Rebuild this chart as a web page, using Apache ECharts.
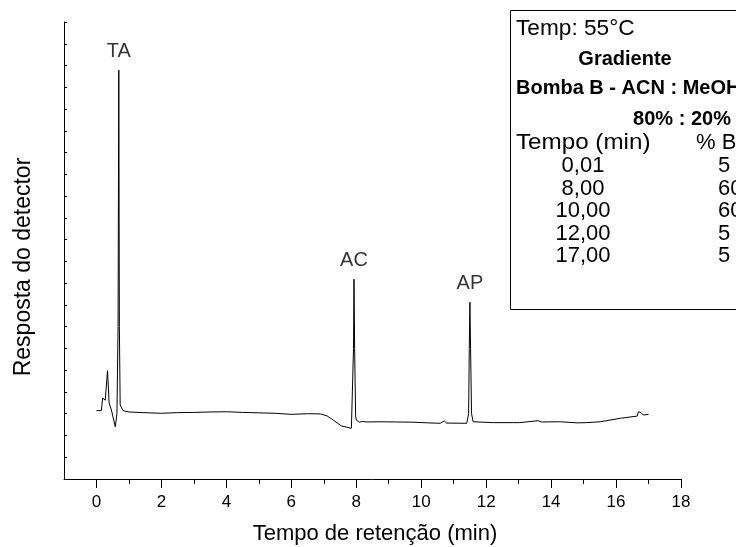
<!DOCTYPE html>
<html>
<head>
<meta charset="utf-8">
<script src="https://cdn.jsdelivr.net/npm/echarts@6/dist/echarts.min.js"></script>
<style>
  html, body { margin: 0; padding: 0; background: #fff; }
  #chart { width: 736px; height: 547px; }
</style>
</head>
<body>
<div id="chart"></div>
<script>
// tempo de retenção (min) e resposta do detector (unid. arbitrárias)
const retentionTime = [
  0.00, 0.15, 0.19, 0.23, 0.27, 0.34, 0.39, 0.46, 0.51, 0.58, 0.63, 0.665, 0.687, 0.705, 0.73,
  0.82, 1.00, 1.43, 2.00, 2.50, 3.00, 3.50, 4.00, 4.50, 5.00, 5.50, 6.00, 6.50, 6.90,
  7.10, 7.29, 7.54, 7.85, 7.89, 7.915, 7.93, 7.95, 7.98, 8.00, 8.10, 8.20, 8.30, 8.73,
  9.20, 9.75, 10.20, 10.58, 10.71, 10.78, 11.40, 11.46, 11.48, 11.50, 11.52, 11.55, 11.60,
  12.22, 12.84, 13.04, 13.60, 13.70, 14.28, 14.80, 15.10, 15.51, 16.13, 16.65, 16.69,
  16.77, 16.84, 16.90, 17.00
];
const detectorSignal = [
  314, 314, 372, 378, 362, 498, 349, 317, 320, 240, 300, 700, 1879, 700, 340,
  314, 308, 305, 302, 305, 306, 308, 309, 306, 304, 302, 297, 300, 299,
  290, 271, 244, 233, 240, 600, 918, 600, 290, 271, 261, 265, 262, 263,
  262, 261, 258, 256, 267, 257, 256, 300, 600, 812, 600, 300, 263,
  259, 259, 259, 268, 262, 263, 258, 259, 263, 279, 289, 309,
  305, 294, 298, 297
];

const peakNames = ['TA', 'AC', 'AP'];
const peakTimes = [0.687, 7.93, 11.5];
const peakHeights = [1879, 918, 812];

const xMajorTicks = [0, 2, 4, 6, 8, 10, 12, 14, 16, 18];
const xMinorTicks = [1, 3, 5, 7, 9, 11, 13, 15, 17];

const gradientTimes = ['0,01', '8,00', '10,00', '12,00', '17,00'];
const gradientPercentB = ['5', '60', '60', '5', '5'];

const FONT = 'Arial, "Liberation Sans", sans-serif';

const myChart = echarts.init(document.getElementById('chart'));

const lineData = retentionTime.map((t, i) => [t, detectorSignal[i]]);
const peakData = peakNames.map((n, i) => [peakTimes[i], peakHeights[i], n]);

// caixa com as condições do gradiente
const boxTexts = [
  { text: 'Temp: 55°C', x: 516, y: 29, align: 'left', font: '22px ' + FONT, sx: 1.03 },
  { text: 'Gradiente', x: 625, y: 59, align: 'center', font: 'bold 20px ' + FONT },
  { text: 'Bomba B - ACN : MeOH', x: 516, y: 88, align: 'left', font: 'bold 20px ' + FONT },
  { text: '80% : 20%', x: 682, y: 119, align: 'center', font: 'bold 20px ' + FONT },
  { text: 'Tempo (min)', x: 516, y: 143, align: 'left', font: '22px ' + FONT, sx: 1.1 },
  { text: '% B', x: 696, y: 143, align: 'left', font: '22px ' + FONT }
];
gradientTimes.forEach((t, i) => {
  boxTexts.push({ text: t, x: 583, y: 166 + i * 22.5, align: 'center', font: '22px ' + FONT });
  boxTexts.push({ text: gradientPercentB[i], x: 718, y: 166 + i * 22.5, align: 'left', font: '22px ' + FONT });
});

const graphic = [
  {
    type: 'rect', z: 10,
    shape: { x: 510.5, y: 10.5, width: 300, height: 299 },
    style: { fill: '#fff', stroke: '#000', lineWidth: 1 }
  },
  ...boxTexts.map(b => ({
    type: 'text', z: 11, x: b.x, y: b.y, scaleX: b.sx || 1,
    style: { text: b.text, font: b.font, fill: '#000', align: b.align, verticalAlign: 'middle' }
  })),
  {
    type: 'text', x: 375, y: 534,
    style: { text: 'Tempo de retenção (min)', font: '22px ' + FONT, fill: '#000', align: 'center', verticalAlign: 'middle' }
  },
  {
    type: 'text', x: 24, y: 267, rotation: Math.PI / 2,
    style: { text: 'Resposta do detector', font: '23px ' + FONT, fill: '#000', align: 'center', verticalAlign: 'middle' }
  }
];

const option = {
  backgroundColor: '#fff',
  animation: false,
  grid: { left: 64, right: 55, top: 22, bottom: 68 },
  xAxis: [
    {
      type: 'value', min: -1, max: 18, position: 'bottom',
      axisLine: { show: true, onZero: false, lineStyle: { color: '#000', width: 1 } },
      axisTick: { show: true, length: 9, customValues: xMajorTicks, lineStyle: { color: '#000', width: 1 } },
      axisLabel: { show: true, customValues: xMajorTicks, margin: 15, fontSize: 17, fontFamily: FONT, color: '#000' },
      splitLine: { show: false }
    },
    {
      type: 'value', min: -1, max: 18, position: 'bottom',
      axisLine: { show: false, onZero: false },
      axisTick: { show: true, length: 5, customValues: xMinorTicks, lineStyle: { color: '#000', width: 1 } },
      axisLabel: { show: false },
      splitLine: { show: false }
    }
  ],
  yAxis: {
    type: 'value', min: 0, max: 2100, interval: 100,
    axisLine: { show: true, onZero: false, lineStyle: { color: '#000', width: 1 } },
    axisTick: { show: true, inside: true, length: 3, lineStyle: { color: '#000', width: 1 } },
    axisLabel: { show: false },
    splitLine: { show: false }
  },
  series: [
    {
      type: 'line',
      data: lineData,
      showSymbol: false,
      lineStyle: { color: '#000', width: 1 },
      z: 3
    },
    {
      type: 'scatter',
      data: peakData,
      symbolSize: 0,
      itemStyle: { color: '#000' },
      label: {
        show: true, position: 'top', distance: 9,
        formatter: p => p.data[2],
        fontSize: 20, fontFamily: FONT, color: '#000', textBorderWidth: 0
      },
      z: 4
    }
  ],
  graphic: graphic
};

myChart.setOption(option);
window.addEventListener('resize', myChart.resize);
</script>
</body>
</html>
